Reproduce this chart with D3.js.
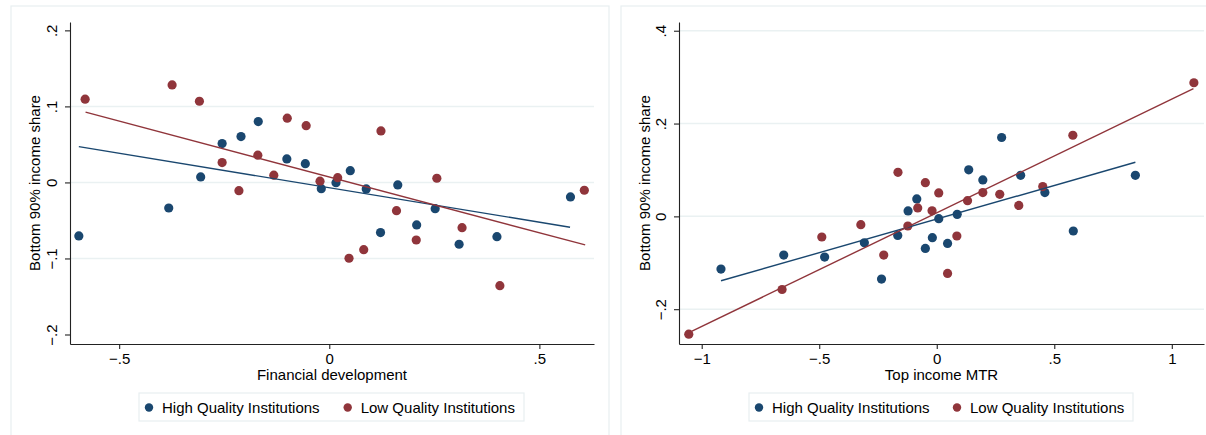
<!DOCTYPE html>
<html>
<head>
<meta charset="utf-8">
<script src="https://cdn.jsdelivr.net/npm/d3@7"></script>
<style>
  body { margin: 0; background: #fff; }
  svg text { font-family: "Liberation Sans", Arial, Helvetica, sans-serif; fill: #000; }
</style>
</head>
<body>
<svg id="canvas" width="1206" height="435"></svg>
<script>
// ---- data ----
// left panel: financial development vs bottom 90% share
let finHighX = [-0.596, -0.382, -0.306, -0.255, -0.210, -0.169, -0.101, -0.057, -0.019, 0.016, 0.050, 0.088, 0.122, 0.163, 0.208, 0.252, 0.309, 0.399, 0.574]
let finHighY = [-0.0704, -0.0336, 0.0072, 0.0511, 0.0603, 0.0800, 0.0309, 0.0247, -0.0082, -0.0003, 0.0155, -0.0086, -0.0660, -0.0033, -0.0559, -0.0345, -0.0813, -0.0713, -0.0191]
let finLowX = [-0.581, -0.374, -0.309, -0.255, -0.215, -0.170, -0.132, -0.100, -0.055, -0.022, 0.020, 0.047, 0.082, 0.123, 0.160, 0.207, 0.256, 0.316, 0.406, 0.607]
let finLowY = [0.1095, 0.1283, 0.1068, 0.0261, -0.0108, 0.0358, 0.0095, 0.0845, 0.0747, 0.0017, 0.0062, -0.0997, -0.0884, 0.0678, -0.0371, -0.0757, 0.0055, -0.0595, -0.1358, -0.0103]
// fitted lines (start, end)
let finHighFit = [[-0.596, 0.0471], [0.573, -0.0589]]
let finLowFit = [[-0.580, 0.0924], [0.609, -0.0822]]

// right panel: top income MTR vs bottom 90% share
let mtrHighX = [-0.918, -0.651, -0.477, -0.308, -0.235, -0.166, -0.122, -0.085, -0.0485, -0.0187, 0.0085, 0.046, 0.087, 0.136, 0.196, 0.276, 0.357, 0.460, 0.581, 0.845]
let mtrHighY = [-0.1135, -0.0833, -0.0876, -0.0568, -0.1351, -0.0410, 0.0117, 0.0376, -0.0691, -0.0460, -0.0050, -0.0583, 0.0043, 0.1002, 0.0786, 0.1699, 0.0885, 0.0512, -0.0315, 0.0885]
let mtrLowX = [-1.055, -0.658, -0.489, -0.323, -0.2255, -0.165, -0.123, -0.081, -0.0485, -0.020, 0.0085, 0.046, 0.0855, 0.131, 0.196, 0.268, 0.349, 0.451, 0.579, 1.094]
let mtrLowY = [-0.2538, -0.1576, -0.0445, -0.0179, -0.0833, 0.0950, -0.0207, 0.0181, 0.0727, 0.0119, 0.0505, -0.1230, -0.0423, 0.0339, 0.0512, 0.0475, 0.0235, 0.0641, 0.1748, 0.2879]
let mtrHighFit = [[-0.918, -0.1388], [0.845, 0.1166]]
let mtrLowFit = [[-1.050, -0.2495], [1.092, 0.2750]]

let finXTicks = [-0.5, 0, 0.5]
let finYTicks = [-0.2, -0.1, 0, 0.1, 0.2]
let finYGrid = [-0.1, 0, 0.1]
let mtrXTicks = [-1, -0.5, 0, 0.5, 1]
let mtrYTicks = [-0.2, 0, 0.2, 0.4]
let mtrYGrid = [-0.2, 0, 0.2, 0.4]

let seriesNames = ['High Quality Institutions', 'Low Quality Institutions']

let navy = '#1a476f'
let maroon = '#90353b'
let gridColor = '#eaf1f2'

let canvas = d3.select('#canvas')

// stata style labels: .5, -.5, 0
let stataFmt = (v) => {
    if (v === 0) return '0'
    let s = String(Math.abs(v)).replace(/^0\./, '.')
    return (v < 0 ? '\u2212' : '') + s
}

let drawPanel = (p) => {
    let g = canvas.append('g')

    // outer frame of the panel
    g.append('rect')
        .attr('x', p.frame[0]).attr('y', p.frame[1])
        .attr('width', p.frame[2]).attr('height', p.frame[3])
        .attr('fill', 'none').attr('stroke', '#e8eff1').attr('stroke-width', 1.2)

    let x = d3.scaleLinear().domain(p.xDomain).range([p.left, p.right])
    let y = d3.scaleLinear().domain(p.yDomain).range([p.bottom, p.top])

    // gridlines
    g.selectAll('.grid')
        .data(p.yGrid)
        .enter()
        .append('line')
        .attr('x1', p.left).attr('x2', p.right)
        .attr('y1', (d) => y(d)).attr('y2', (d) => y(d))
        .attr('stroke', gridColor).attr('stroke-width', 1.5)

    // axes
    let yAxis = g.append('g')
        .attr('transform', 'translate(' + p.left + ',0)')
        .call(d3.axisLeft(y).tickValues(p.yTicks).tickSize(5).tickSizeOuter(0).tickFormat(stataFmt))
    yAxis.selectAll('text')
        .attr('transform', 'rotate(-90)')
        .attr('x', 0).attr('y', -13).attr('dy', 0)
        .attr('text-anchor', 'middle')
        .style('font-size', '15px')

    let xAxis = g.append('g')
        .attr('transform', 'translate(0,' + p.bottom + ')')
        .call(d3.axisBottom(x).tickValues(p.xTicks).tickSize(5).tickSizeOuter(0).tickFormat(stataFmt))
    xAxis.selectAll('text')
        .attr('y', 20).attr('dy', 0)
        .style('font-size', '15px')

    canvas.selectAll('.domain, .tick line')
        .attr('stroke', '#222').attr('stroke-width', 1.1)

    // axis titles
    g.append('text')
        .attr('x', (p.left + p.right) / 2).attr('y', p.bottom + 36)
        .attr('text-anchor', 'middle')
        .style('font-size', '15px')
        .text(p.xTitle)
    g.append('text')
        .attr('transform', 'translate(' + (p.frame[0] + 29) + ',' + ((p.top + p.bottom) / 2) + ') rotate(-90)')
        .attr('text-anchor', 'middle')
        .style('font-size', '15px')
        .text(p.yTitle)

    // scatter points
    p.series.forEach((s) => {
        g.append('g').selectAll('circle')
            .data(d3.zip(s.xs, s.ys))
            .enter()
            .append('circle')
            .attr('cx', (d) => x(d[0]))
            .attr('cy', (d) => y(d[1]))
            .attr('r', 4.6)
            .attr('fill', s.color)
    })

    // fitted lines
    p.series.forEach((s) => {
        g.append('path')
            .datum(s.fit)
            .attr('d', d3.line().x((d) => x(d[0])).y((d) => y(d[1])))
            .attr('fill', 'none')
            .attr('stroke', s.color)
            .attr('stroke-width', 1.4)
    })

    // legend
    let lg = g.append('g').attr('transform', 'translate(' + p.legendX + ',393)')
    lg.append('rect')
        .attr('width', p.legendW).attr('height', 28)
        .attr('fill', '#fff').attr('stroke', '#e8eff1').attr('stroke-width', 1.2)
    p.series.forEach((s, i) => {
        let off = i === 0 ? 10 : p.legendGap
        lg.append('circle').attr('cx', off).attr('cy', 14.5).attr('r', 4.2).attr('fill', s.color)
        lg.append('text')
            .attr('x', off + 13).attr('y', 20)
            .style('font-size', '15px')
            .text(seriesNames[i])
    })
}

drawPanel({
    frame: [11, 6, 598, 440],
    left: 70, right: 594, top: 22, bottom: 344,
    xDomain: [-0.617, 0.630], yDomain: [-0.2125, 0.211],
    xTicks: finXTicks, yTicks: finYTicks, yGrid: finYGrid,
    xTitle: 'Financial development', yTitle: 'Bottom 90% income share',
    legendX: 139, legendW: 385, legendGap: 208.7,
    series: [
        { xs: finHighX, ys: finHighY, fit: finHighFit, color: navy },
        { xs: finLowX, ys: finLowY, fit: finLowFit, color: maroon }
    ]
})

drawPanel({
    frame: [621, 6, 600, 440],
    left: 679, right: 1204, top: 22, bottom: 344,
    xDomain: [-1.0966, 1.137], yDomain: [-0.275, 0.4188],
    xTicks: mtrXTicks, yTicks: mtrYTicks, yGrid: mtrYGrid,
    xTitle: 'Top income MTR', yTitle: 'Bottom 90% income share',
    legendX: 749, legendW: 384, legendGap: 208,
    series: [
        { xs: mtrHighX, ys: mtrHighY, fit: mtrHighFit, color: navy },
        { xs: mtrLowX, ys: mtrLowY, fit: mtrLowFit, color: maroon }
    ]
})
</script>
</body>
</html>
